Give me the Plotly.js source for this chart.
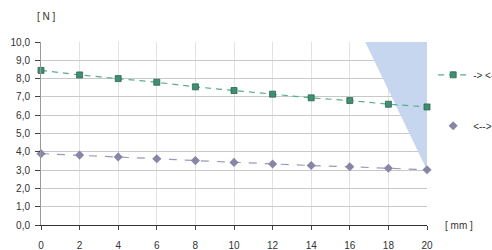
<!DOCTYPE html>
<html><head><meta charset="utf-8">
<script src="https://cdn.plot.ly/plotly-3.0.1.min.js"></script>
<style>html,body{margin:0;padding:0;background:#fff}#c{width:492px;height:250px}</style>
</head><body><div id="c"></div>
<script>
const strokeMm = [0, 2, 4, 6, 8, 10, 12, 14, 16, 18, 20];
const forceGreen = [8.45, 8.2, 8.0, 7.8, 7.55, 7.35, 7.15, 6.95, 6.8, 6.6, 6.45];
const forcePurple = [3.9, 3.82, 3.72, 3.62, 3.52, 3.42, 3.33, 3.25, 3.18, 3.1, 3.02];
const shadeX = [16.8, 20, 20];
const shadeY = [10, 10, 3.0];
const seriesNames = ['-> <-', '<-->'];
const yTicks = [0, 1, 2, 3, 4, 5, 6, 7, 8, 9, 10];
const xTicks = [0, 2, 4, 6, 8, 10, 12, 14, 16, 18, 20];

const font = {family: 'Liberation Sans, Arial, sans-serif', size: 10, color: '#333'};

const data = [
  {x: shadeX, y: shadeY, type: 'scatter', mode: 'lines', fill: 'toself',
   fillcolor: '#c6d6ee', line: {width: 0}, showlegend: false, hoverinfo: 'skip'},
  {x: strokeMm, y: forceGreen, type: 'scatter', mode: 'lines+markers', name: seriesNames[0],
   legendgroup: 'a', cliponaxis: false,
   line: {color: '#5aac8c', width: 1.2, dash: '6px,5px'},
   marker: {symbol: 'square', size: 6, color: '#3f8f70', line: {color: '#2c6652', width: 0.8}}},
  {x: strokeMm, y: forcePurple, type: 'scatter', mode: 'lines', showlegend: false,
   legendgroup: 'b', cliponaxis: false, hoverinfo: 'skip',
   line: {color: '#9b99b8', width: 1.2, dash: '8px,8px'}},
  {x: strokeMm, y: forcePurple, type: 'scatter', mode: 'markers', name: seriesNames[1],
   legendgroup: 'b', cliponaxis: false,
   marker: {symbol: 'diamond', size: 7, color: '#8886a6'}}
];

const layout = {
  width: 492, height: 250,
  margin: {l: 41, r: 65, t: 42, b: 25, autoexpand: false},
  paper_bgcolor: '#fff', plot_bgcolor: '#fff',
  font: font,
  separators: ', ',
  showlegend: true,
  legend: {x: 1.016, y: 0.9, xanchor: 'left', yanchor: 'top', traceorder: 'grouped',
           tracegroupgap: 32, font: font, itemwidth: 30, bgcolor: 'rgba(0,0,0,0)'},
  xaxis: {range: [0, 20], tickvals: xTicks, ticktext: xTicks.map(String),
          showgrid: true, gridcolor: '#e2e2e6', gridwidth: 1,
          ticks: 'outside', ticklen: 4, tickcolor: '#444', ticklabelstandoff: 7,
          showline: true, linecolor: '#333', linewidth: 1.2, zeroline: false, fixedrange: true},
  yaxis: {range: [0, 10], tickvals: yTicks, tickformat: '.1f',
          showgrid: true, gridcolor: '#c8c8c8', gridwidth: 1,
          ticks: 'outside', ticklen: 5, tickcolor: '#444', ticklabelstandoff: 3,
          showline: true, linecolor: '#999', linewidth: 1, zeroline: false, fixedrange: true},
  annotations: [
    {text: '[ N ]', xref: 'paper', yref: 'paper', x: 0.015, y: 1.14, xanchor: 'center', yanchor: 'middle',
     showarrow: false, font: font},
    {text: '[ mm ]', xref: 'paper', yref: 'paper', x: 1.041, y: 0.0, xanchor: 'left', yanchor: 'middle',
     showarrow: false, font: font}
  ]
};

Plotly.newPlot('c', data, layout, {displayModeBar: false, staticPlot: true});
</script></body></html>
